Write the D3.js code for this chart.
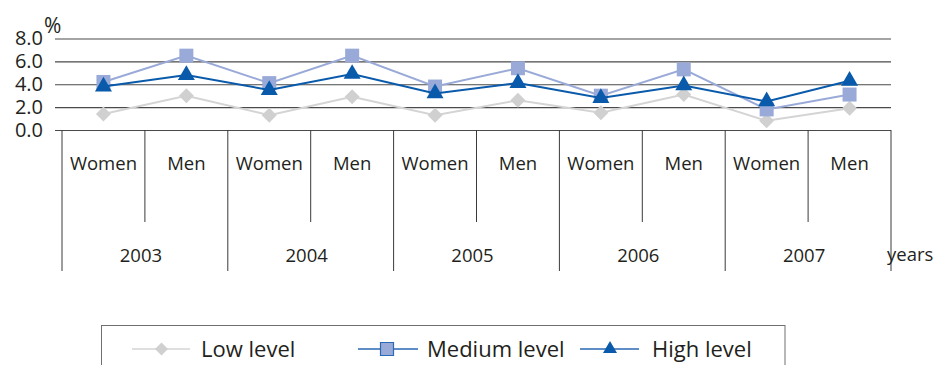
<!DOCTYPE html>
<html>
<head>
<meta charset="utf-8">
<script src="https://cdn.jsdelivr.net/npm/d3@7"></script>
<style>
  html, body { margin: 0; padding: 0; background: #fff; }
  svg { display: block; }
  text { font-family: "Open Sans", "Noto Sans", sans-serif; fill: #231f20; }
</style>
</head>
<body>
<svg id="chart" width="934" height="365"></svg>
<script>
const years = ["2003", "2004", "2005", "2006", "2007"];
const genders = ["Women", "Men"];
const yTicks = [0, 2, 4, 6, 8];
const seriesNames = ["Low level", "Medium level", "High level"];
const lowLevel    = [1.4, 3.0, 1.3, 2.9, 1.3, 2.6, 1.5, 3.1, 0.8, 1.9];
const mediumLevel = [4.2, 6.5, 4.1, 6.5, 3.8, 5.4, 3.0, 5.3, 1.8, 3.1];
const highLevel   = [3.8, 4.8, 3.5, 4.9, 3.2, 4.1, 2.8, 3.9, 2.5, 4.3];

const categories = [];
years.forEach(yr => genders.forEach(g => categories.push(yr + "|" + g)));

const svg = d3.select("#chart");
const plotLeft = 62, plotRight = 891, plotTop = 38.5, plotBase = 130;

const x = d3.scaleBand().domain(categories).range([plotLeft, plotRight]).padding(0);
const xYear = d3.scaleBand().domain(years).range([plotLeft, plotRight]).padding(0);
const y = d3.scaleLinear().domain([0, 8]).range([plotBase, plotTop]);

// gridlines + y tick labels
const gy = svg.append("g").attr("transform", `translate(${plotRight},0)`);
gy.call(d3.axisLeft(y).tickValues(yTicks).tickSize(plotRight - plotLeft + 7).tickSizeOuter(0)
  .tickFormat(d3.format(".1f")).tickPadding(12));
gy.select(".domain").remove();
gy.selectAll(".tick line").attr("stroke", "#4a4a4a").attr("stroke-width", 1.2);
gy.selectAll(".tick text").attr("font-size", 20).attr("fill", "#231f20")
  .attr("font-family", '"Open Sans", sans-serif');

svg.append("text").attr("x", 44).attr("y", 33).attr("font-size", 21).text("%");

// category dividers
const dividers = categories.map((c, i) => ({ pos: x(c), major: i % 2 === 0 }));
dividers.push({ pos: plotRight, major: true });
svg.append("g").selectAll("line").data(dividers).join("line")
  .attr("x1", d => d.pos).attr("x2", d => d.pos)
  .attr("y1", plotBase).attr("y2", d => d.major ? 271 : 222)
  .attr("stroke", "#3a3a3a").attr("stroke-width", 1);

// category labels
svg.append("g").selectAll("text").data(categories).join("text")
  .attr("x", d => x(d) + x.bandwidth() / 2).attr("y", 170)
  .attr("text-anchor", "middle").attr("font-size", 18.5)
  .text(d => d.split("|")[1]);

svg.append("g").selectAll("text").data(years).join("text")
  .attr("x", d => xYear(d) + xYear.bandwidth() / 2 - 4).attr("y", 262)
  .attr("text-anchor", "middle").attr("font-size", 18.5)
  .text(d => d);

svg.append("text").attr("x", 887).attr("y", 261).attr("font-size", 18.5).text("years");

// marker path generators (r = half-width)
function diamondPath(r) { return `M0,${-r}L${r},0L0,${r}L${-r},0Z`; }
function squarePath(r) { return `M${-r},${-r}H${r}V${r}H${-r}Z`; }
function trianglePath(r) { const h = r * Math.sqrt(3); return `M0,${-h * 2 / 3}L${r},${h / 3}L${-r},${h / 3}Z`; }

const series = [
  { name: seriesNames[0], values: lowLevel, line: "#d4d4d4", fill: "#d0d0d0", shape: diamondPath, r: 7.5, lw: 2 },
  { name: seriesNames[1], values: mediumLevel, line: "#9aaad8", fill: "#9aaad8", shape: squarePath, r: 7, lw: 2 },
  { name: seriesNames[2], values: highLevel, line: "#0a5aab", fill: "#0a5aab", shape: trianglePath, r: 8.5, lw: 2 }
];

const line = d3.line().x((d, i) => x(categories[i]) + x.bandwidth() / 2).y(d => y(d));

series.forEach(s => {
  const g = svg.append("g");
  g.append("path").attr("d", line(s.values)).attr("fill", "none")
    .attr("stroke", s.line).attr("stroke-width", s.lw);
  g.selectAll("path.m").data(s.values).join("path").attr("class", "m")
    .attr("d", s.shape(s.r))
    .attr("transform", (d, i) => `translate(${x(categories[i]) + x.bandwidth() / 2},${y(d)})`)
    .attr("fill", s.fill);
});

// legend
const lg = svg.append("g");
lg.append("rect").attr("x", 101.5).attr("y", 325.5).attr("width", 683.5).attr("height", 60)
  .attr("fill", "none").attr("stroke", "#707070").attr("stroke-width", 1);

const legendItems = [
  { s: series[0], x0: 132, x1: 190, cx: 161.5, tx: 201, line: "#d4d4d4", fill: "#d0d0d0", stroke: "none", r: 6.5 },
  { s: series[1], x0: 358, x1: 418, cx: 387, tx: 427, line: "#2a69b4", fill: "#9aaad8", stroke: "#2a69b4", r: 6.5 },
  { s: series[2], x0: 580, x1: 639, cx: 610, tx: 652, line: "#2a69b4", fill: "#0a5aab", stroke: "none", r: 7 }
];
legendItems.forEach(it => {
  lg.append("line").attr("x1", it.x0).attr("x2", it.x1).attr("y1", 349).attr("y2", 349)
    .attr("stroke", it.line).attr("stroke-width", 1.5);
  lg.append("path").attr("d", it.s.shape(it.r)).attr("transform", `translate(${it.cx},349)`)
    .attr("fill", it.fill).attr("stroke", it.stroke).attr("stroke-width", 1.2);
  lg.append("text").attr("x", it.tx).attr("y", 357).attr("font-size", 22).text(it.s.name);
});
</script>
</body>
</html>
